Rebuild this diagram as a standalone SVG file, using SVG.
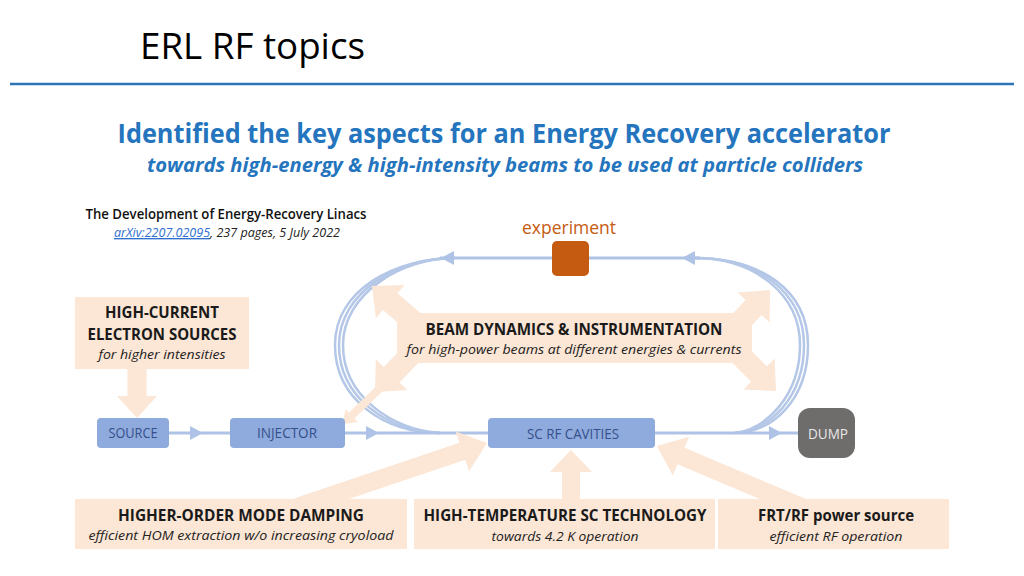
<svg xmlns="http://www.w3.org/2000/svg" width="1024" height="576" viewBox="0 0 1024 576">
<style>
  .t{font-family:"Open Sans","Liberation Sans",sans-serif}
  .bt{font-family:"Open Sans","Liberation Sans",sans-serif;font-weight:700;fill:#1a1a1a;text-anchor:middle}
  .it{font-family:"Open Sans","Liberation Sans",sans-serif;font-style:italic;fill:#222;text-anchor:middle}
  .beige{fill:#FCE6D5}
  .loop{fill:none;stroke:#B4C7E7;stroke-width:2.5}
  .line{fill:none;stroke:#AFC3E6;stroke-width:3}
  .head{fill:#AFC3E6}
  .blue{fill:#8FAADC}
  .nt{font-family:"Open Sans","Liberation Sans",sans-serif;font-size:14px;fill:#34508C;text-anchor:middle}
</style>
<rect width="1024" height="576" fill="#fff"/>
<text class="t" x="140" y="59" font-size="36" fill="#000" textLength="225" lengthAdjust="spacingAndGlyphs">ERL RF topics</text>
<line x1="10" y1="84" x2="1014" y2="84" stroke="#2E75B6" stroke-width="2.5"/>
<text class="t" x="504" y="143" font-size="26" font-weight="700" fill="#2475BE" text-anchor="middle" textLength="773" lengthAdjust="spacingAndGlyphs">Identified the key aspects for an Energy Recovery accelerator</text>
<text class="t" x="505" y="172" font-size="19" font-weight="700" font-style="italic" fill="#2475BE" text-anchor="middle" textLength="716" lengthAdjust="spacingAndGlyphs">towards high-energy &amp; high-intensity beams to be used at particle colliders</text>
<text class="t" x="226" y="219" font-size="13.5" font-weight="600" fill="#111" text-anchor="middle" textLength="281" lengthAdjust="spacingAndGlyphs">The Development of Energy-Recovery Linacs</text>
<text class="t" x="114" y="237" font-size="13.5" font-style="italic" fill="#222" textLength="226" lengthAdjust="spacingAndGlyphs"><tspan fill="#2F6FD0" text-decoration="underline">arXiv:2207.02095</tspan>, 237 pages, 5 July 2022</text>

<g id="connectors">
  <path class="loop" d="M455,258 C395,258 335,290 335,345 C335,400 385,433 440,433"/>
  <path class="loop" d="M455,258 C398,258 339,292 339,345 C339,398 388,431 440,433"/>
  <path class="loop" d="M455,258 C401,258 343,294 343,345 C343,396 391,429 440,433"/>
  <path class="loop" d="M695,258 C760,258 808,290 808,345 C808,400 772,433 735,433"/>
  <path class="loop" d="M695,258 C757,258 804,292 804,345 C804,398 769,431 735,433"/>
  <path class="loop" d="M695,258 C754,258 800,294 800,345 C800,396 766,429 735,433"/>
  <line class="line" x1="440" y1="258" x2="700" y2="258"/>
  <line class="line" x1="169" y1="433" x2="800" y2="433"/>
  <polygon class="head" points="441,258 454,251 454,265"/>
  <polygon class="head" points="682,258 695,251 695,265"/>
  <polygon class="head" points="203,433 190,426 190,440"/>
  <polygon class="head" points="379,433 366,426 366,440"/>
  <polygon class="head" points="782,433 769,426 769,440"/>
</g>

<g id="beige-arrows" class="beige">
  <polygon transform="translate(137,418) rotate(90)" points="0,0 -22,-20 -22,-9.5 -50,-9.5 -50,9.5 -22,9.5 -22,20"/>
  <polygon transform="translate(372,286) rotate(220.7)" points="0,0 -24,-22 -24,-11 -60,-11 -60,11 -24,11 -24,22"/>
  <polygon transform="translate(375,392) rotate(134)" points="0,0 -24,-22 -24,-11 -55,-11 -55,11 -24,11 -24,22"/>
  <polygon transform="translate(343,424) rotate(136)" points="0,0 -12,-9 -12,-4 -60,-4 -60,4 -12,4 -12,9"/>
  <polygon transform="translate(770,290) rotate(-46.8)" points="0,0 -24,-22 -24,-11 -60,-11 -60,11 -24,11 -24,22"/>
  <polygon transform="translate(776,391) rotate(45)" points="0,0 -24,-22 -24,-11 -60,-11 -60,11 -24,11 -24,22"/>
  <polygon transform="translate(487,443) rotate(-18.6)" points="0,0 -26,-21 -26,-9 -200,-9 -200,9 -26,9 -26,21"/>
  <polygon transform="translate(571,450) rotate(-90)" points="0,0 -22,-21 -22,-9 -55,-9 -55,9 -22,9 -22,21"/>
  <polygon transform="translate(657,446) rotate(202.8)" points="0,0 -26,-21 -26,-9 -160,-9 -160,9 -26,9 -26,21"/>
</g>

<g id="node-experiment">
  <text class="t" x="569" y="234" font-size="19" fill="#C55A11" text-anchor="middle" textLength="94" lengthAdjust="spacingAndGlyphs">experiment</text>
  <rect x="552" y="241" width="37" height="35" rx="5" fill="#C55A11"/>
</g>

<g id="node-high-current">
  <rect class="beige" x="75" y="297" width="174" height="72"/>
  <text class="bt" x="162" y="318" font-size="15.5" textLength="114" lengthAdjust="spacingAndGlyphs">HIGH-CURRENT</text>
  <text class="bt" x="162" y="340" font-size="15.5" textLength="149" lengthAdjust="spacingAndGlyphs">ELECTRON SOURCES</text>
  <text class="it" x="162" y="359" font-size="13.5" textLength="127" lengthAdjust="spacingAndGlyphs">for higher intensities</text>
</g>

<g id="node-beam-dynamics">
  <rect class="beige" x="397" y="313" width="355" height="50"/>
  <text class="bt" x="574" y="335" font-size="16" textLength="297" lengthAdjust="spacingAndGlyphs">BEAM DYNAMICS &amp; INSTRUMENTATION</text>
  <text class="it" x="574" y="354" font-size="13.5" textLength="335" lengthAdjust="spacingAndGlyphs">for high-power beams at different energies &amp; currents</text>
</g>

<g id="node-source">
  <rect class="blue" x="97" y="418" width="72" height="30" rx="4"/>
  <text class="nt" x="133" y="438" textLength="49" lengthAdjust="spacingAndGlyphs">SOURCE</text>
</g>
<g id="node-injector">
  <rect class="blue" x="230" y="418" width="115" height="30" rx="4"/>
  <text class="nt" x="287" y="438" textLength="60" lengthAdjust="spacingAndGlyphs">INJECTOR</text>
</g>
<g id="node-sc-rf">
  <rect class="blue" x="488" y="418" width="167" height="30" rx="4"/>
  <text class="nt" x="573" y="439" textLength="92" lengthAdjust="spacingAndGlyphs">SC RF CAVITIES</text>
</g>
<g id="node-dump">
  <rect x="798" y="408" width="57" height="50" rx="12" fill="#6F6C6C"/>
  <text class="nt" x="828" y="439" style="fill:#E8E8E8" textLength="40" lengthAdjust="spacingAndGlyphs">DUMP</text>
</g>

<g id="node-hom">
  <rect class="beige" x="75" y="499" width="332" height="50"/>
  <text class="bt" x="241" y="521" font-size="16" textLength="246" lengthAdjust="spacingAndGlyphs">HIGHER-ORDER MODE DAMPING</text>
  <text class="it" x="241" y="540" font-size="13.5" textLength="305" lengthAdjust="spacingAndGlyphs">efficient HOM extraction w/o increasing cryoload</text>
</g>
<g id="node-hts">
  <rect class="beige" x="414" y="499" width="301" height="50"/>
  <text class="bt" x="565" y="521" font-size="16" textLength="283" lengthAdjust="spacingAndGlyphs">HIGH-TEMPERATURE SC TECHNOLOGY</text>
  <text class="it" x="565" y="541" font-size="13.5" textLength="147" lengthAdjust="spacingAndGlyphs">towards 4.2 K operation</text>
</g>
<g id="node-frt">
  <rect class="beige" x="718" y="499" width="231" height="50"/>
  <text class="bt" x="836" y="521" font-size="16" textLength="156" lengthAdjust="spacingAndGlyphs">FRT/RF power source</text>
  <text class="it" x="836" y="541" font-size="13.5" textLength="133" lengthAdjust="spacingAndGlyphs">efficient RF operation</text>
</g>
</svg>
